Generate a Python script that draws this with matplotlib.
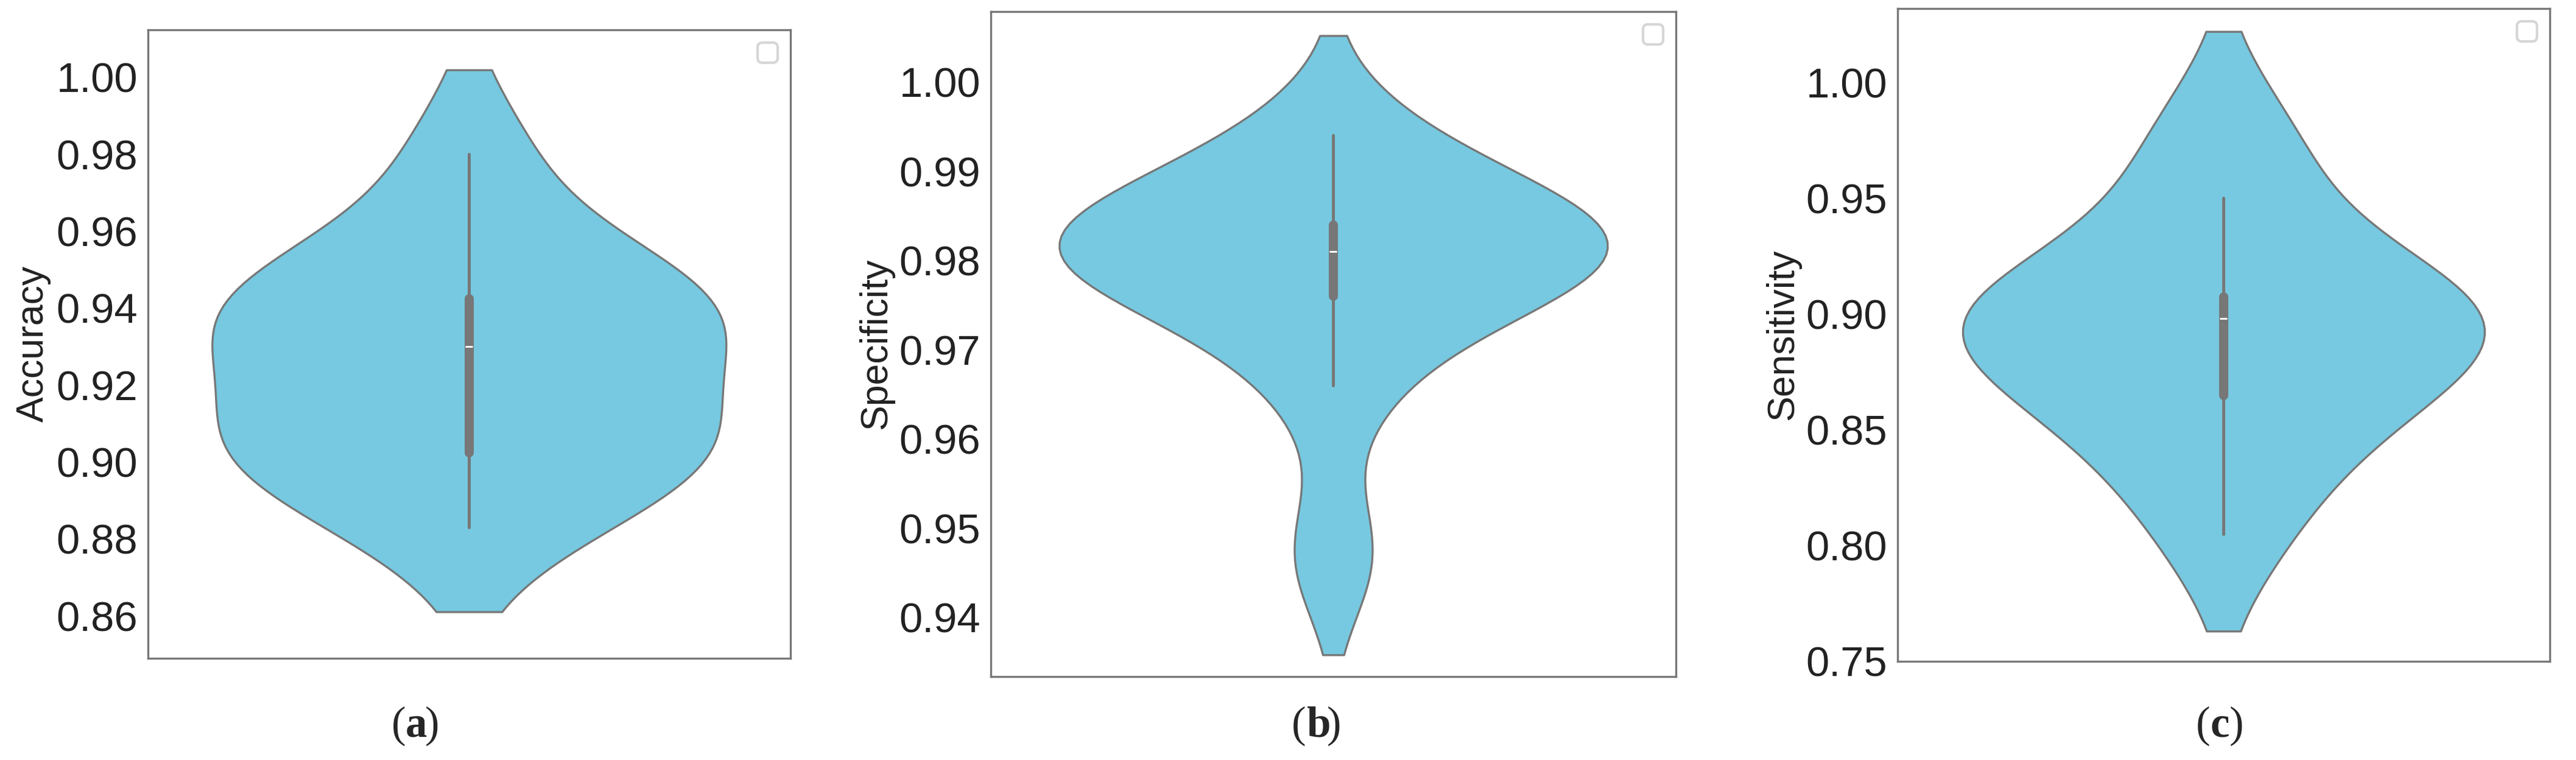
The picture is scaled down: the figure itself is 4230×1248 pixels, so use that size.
import matplotlib
matplotlib.use("Agg")
import matplotlib.pyplot as plt
import seaborn as sns

accuracy = [0.883, 0.900, 0.900, 0.905, 0.910, 0.930, 0.935, 0.940, 0.945, 0.950, 0.980]
specificity = [0.947, 0.966, 0.975, 0.977, 0.980, 0.981, 0.982, 0.983, 0.985, 0.988, 0.994]
sensitivity = [0.805, 0.840, 0.860, 0.870, 0.890, 0.898, 0.900, 0.905, 0.910, 0.950, 0.980]

sns.set_style("white")
plt.rcParams["font.family"] = ["Liberation Sans", "DejaVu Sans"]

fig = plt.figure(figsize=(14.1, 4.16), dpi=300)

panels = [
    (accuracy, "Accuracy", [0.0574, 0.134, 0.2494, 0.827], (0.849, 1.0124),
     [0.86, 0.88, 0.90, 0.92, 0.94, 0.96, 0.98, 1.00], 1.0, 1.25, "a", 0.1575),
    (specificity, "Specificity", [0.3846, 0.110, 0.266, 0.875], (0.9334, 1.0079),
     [0.94, 0.95, 0.96, 0.97, 0.98, 0.99, 1.00], 0.9, 1.6, "b", 0.507),
    (sensitivity, "Sensitivity", [0.7366, 0.130, 0.2532, 0.859], (0.75, 1.032),
     [0.75, 0.80, 0.85, 0.90, 0.95, 1.00], 1.0, 1.4, "c", 0.858),
]

for data, name, pos, ylim, ticks, bw, cut, letter, lx in panels:
    ax = fig.add_axes(pos)
    sns.violinplot(y=data, ax=ax, color="#76C9E0", inner="box", bw_adjust=bw, cut=cut,
                   linecolor="#777777", linewidth=0.8, saturation=1)
    ax.set_ylim(*ylim)
    ax.set_yticks(ticks)
    ax.set_yticklabels([f"{t:.2f}" for t in ticks], fontsize=16.5, color="#222222")
    ax.set_ylabel(name, fontsize=15, color="#222222", labelpad=2)
    ax.set_xlim(-0.5, 0.5)
    ax.set_xticks([])
    ax.tick_params(axis="y", length=0, pad=4)
    for s in ax.spines.values():
        s.set_color("#777777")
        s.set_linewidth(0.8)
    ax.legend(handles=[], loc="upper right", frameon=True)
    fig.text(lx, 0.045, "(", fontsize=17, family="Liberation Serif", ha="right", va="center")
    fig.text(lx, 0.045, letter, fontsize=17, family="Liberation Serif", weight="bold",
             ha="left", va="center")
    fig.text(lx + 0.0075 if letter != "b" else lx + 0.008, 0.045, ")", fontsize=17,
             family="Liberation Serif", ha="left", va="center")

fig.savefig("out.png", dpi=300)
